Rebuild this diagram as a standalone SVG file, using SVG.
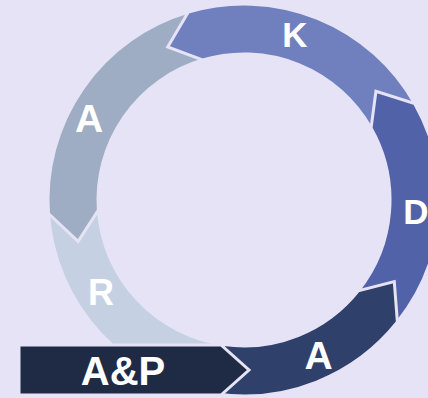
<svg xmlns="http://www.w3.org/2000/svg" width="428" height="398" viewBox="0 0 428 398">
  <style>
    .seg { stroke: #e6e3f6; stroke-width: 3; stroke-linejoin: miter; }
    .lbl { font-family: "Liberation Sans", Arial, sans-serif; font-weight: 700; fill: #ffffff; text-anchor: middle; }
  </style>
  <rect width="428" height="398" fill="#e6e3f6"/>
  <g id="node-R">
    <path class="seg" fill="#c5d0e3" d="M48.48,213.67 A196,196 0 0 0 216.72,394.09 L223.68,344.58 A146,146 0 0 1 98.36,210.19 Z"/>
    <text class="lbl" x="101" y="305" font-size="36">R</text>
  </g>
  <g id="node-A-left">
    <path class="seg" fill="#9eadc3" d="M188.33,12.07 A196,196 0 0 0 48.48,213.67 L78.08,241.37 L98.36,210.19 A146,146 0 0 1 202.53,60.01 Z"/>
    <text class="lbl" x="89" y="132" font-size="39">A</text>
  </g>
  <g id="node-K">
    <path class="seg" fill="#7080bf" d="M414.59,103.49 A196,196 0 0 0 188.33,12.07 L167.70,46.97 L202.53,60.01 A146,146 0 0 1 371.07,128.11 Z"/>
    <text class="lbl" x="295" y="47" font-size="35">K</text>
  </g>
  <g id="node-D">
    <path class="seg" fill="#5262a8" d="M397.39,322.01 A196,196 0 0 0 414.59,103.49 L375.95,91.23 L371.07,128.11 A146,146 0 0 1 358.26,290.89 Z"/>
    <text class="lbl" x="416" y="224" font-size="35">D</text>
  </g>
  <g id="node-A-bottom">
    <path class="seg" fill="#2f416b" d="M216.72,394.09 A196,196 0 0 0 397.39,322.01 L394.28,281.59 L358.26,290.89 A146,146 0 0 1 223.68,344.58 Z"/>
    <text class="lbl" x="318.5" y="369" font-size="39">A</text>
  </g>
  <g id="node-AP">
    <polygon class="seg" fill="#1f2b45" points="19,345 221,345 249,370 221,395 19,395"/>
    <text class="lbl" x="123" y="385" font-size="40">A&amp;P</text>
  </g>
</svg>
